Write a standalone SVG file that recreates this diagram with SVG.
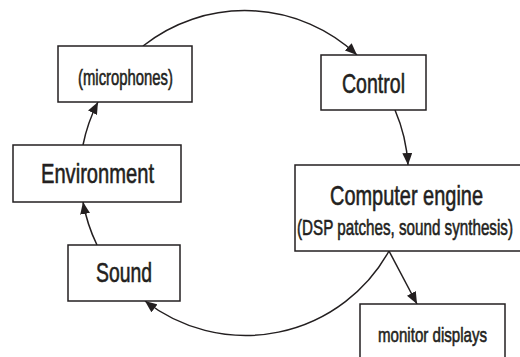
<svg xmlns="http://www.w3.org/2000/svg" width="520" height="357" viewBox="0 0 520 357">
<style>
.box{fill:#fff;stroke:#231f20;stroke-width:1.5}
.t{font-family:"Liberation Sans",Arial,sans-serif;fill:#231f20;stroke:#231f20;stroke-width:0.6}
.c{fill:none;stroke:#231f20;stroke-width:1.5;marker-end:url(#ah)}
</style>
<defs>
<marker id="ah" viewBox="0 0 12 10" refX="12" refY="5" markerWidth="12" markerHeight="10" markerUnits="userSpaceOnUse" orient="auto">
<path d="M0,0 L12,5 L0,10 Z" fill="#231f20"/>
</marker>
</defs>
<rect width="520" height="357" fill="#fff"/>
<g id="connectors">
<path class="c" d="M143,46 A164,164 0 0 1 357,55"/>
<path class="c" d="M395,110 A164,164 0 0 1 408,165"/>
<path class="c" d="M389,251 A164,164 0 0 1 145,301"/>
<path class="c" d="M97,245 A164,164 0 0 1 83,202"/>
<path class="c" d="M83,145 A164,164 0 0 1 98,102"/>
<path class="c" d="M389,251 L417,304"/>
</g>
<g id="microphones">
<rect class="box" x="58" y="46" width="134" height="56"/>
<text class="t" x="78" y="85" font-size="22" textLength="95" lengthAdjust="spacingAndGlyphs">(microphones)</text>
</g>
<g id="control">
<rect class="box" x="321" y="55" width="105" height="55"/>
<text class="t" x="342" y="93" font-size="28" textLength="63" lengthAdjust="spacingAndGlyphs">Control</text>
</g>
<g id="engine">
<rect class="box" x="295" y="165" width="235" height="86"/>
<text class="t" x="330" y="205" font-size="28" textLength="153" lengthAdjust="spacingAndGlyphs">Computer engine</text>
<text class="t" x="297" y="235" font-size="22" textLength="216" lengthAdjust="spacingAndGlyphs">(DSP patches, sound synthesis)</text>
</g>
<g id="monitor">
<rect class="box" x="360" y="304" width="145" height="70"/>
<text class="t" x="378" y="342" font-size="21" textLength="109" lengthAdjust="spacingAndGlyphs">monitor displays</text>
</g>
<g id="environment">
<rect class="box" x="13" y="145" width="168" height="57"/>
<text class="t" x="41" y="183" font-size="28" textLength="113" lengthAdjust="spacingAndGlyphs">Environment</text>
</g>
<g id="sound">
<rect class="box" x="68" y="245" width="112" height="56"/>
<text class="t" x="96" y="282" font-size="28" textLength="56" lengthAdjust="spacingAndGlyphs">Sound</text>
</g>
</svg>
